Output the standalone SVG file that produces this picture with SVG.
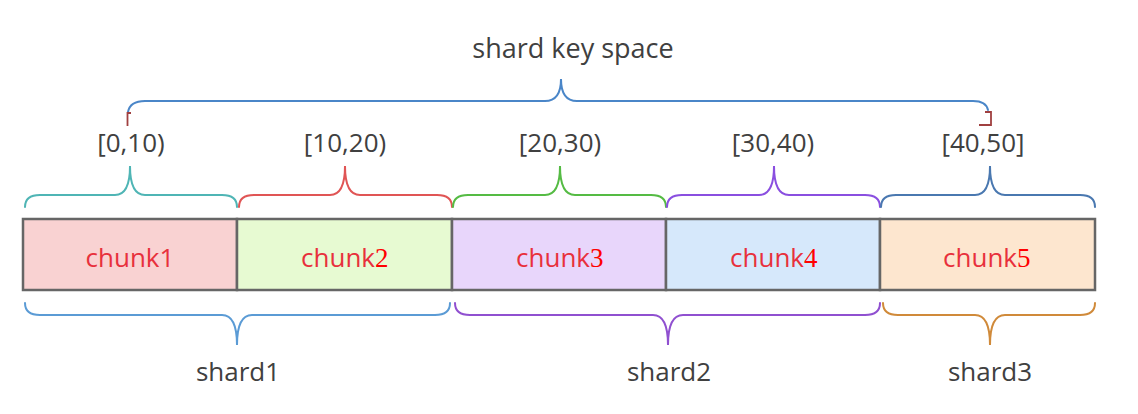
<svg xmlns="http://www.w3.org/2000/svg" width="1138" height="414" viewBox="0 0 1138 414">
<style>
.lbl{font-family:"Open Sans","Noto Sans",sans-serif;fill:#404040;text-anchor:middle}
.rng{font-size:26px}
.ck{font-family:"Open Sans","Noto Sans",sans-serif;font-size:26px;fill:#e8303c;text-anchor:middle}
.ckw{font-family:"Open Sans","Noto Sans",sans-serif;font-size:26px;fill:#e8303c;text-anchor:end}
.dg{font-family:"Liberation Serif","Times New Roman",serif;fill:#ff0000;font-size:27px;text-anchor:start}
.box{stroke:#666;stroke-width:2.5}
.br{fill:none;stroke-width:2;stroke-linecap:round}
</style>
<rect width="1138" height="414" fill="#fff"/>
<g id="title"><text class="lbl" x="573" y="58" font-size="27">shard key space</text></g>
<g id="ranges">
<text class="lbl rng" x="131" y="152">[0,10)</text>
<text class="lbl rng" x="345" y="152">[10,20)</text>
<text class="lbl rng" x="560" y="152">[20,30)</text>
<text class="lbl rng" x="773" y="152">[30,40)</text>
<text class="lbl rng" x="983" y="152">[40,50]</text>
</g>
<g id="chunk1"><rect class="box" x="23" y="219" width="214" height="71" fill="#f9d2d2"/><text class="ck" x="130" y="267">chunk1</text></g>
<g id="chunk2"><rect class="box" x="237" y="219" width="215" height="71" fill="#e7fad2"/><text class="ckw" x="375" y="267">chunk</text><text class="dg" x="375" y="267">2</text></g>
<g id="chunk3"><rect class="box" x="452" y="219" width="214" height="71" fill="#e8d6fb"/><text class="ckw" x="590" y="267">chunk</text><text class="dg" x="590" y="267">3</text></g>
<g id="chunk4"><rect class="box" x="666" y="219" width="214" height="71" fill="#d6e8fb"/><text class="ckw" x="804" y="267">chunk</text><text class="dg" x="804" y="267">4</text></g>
<g id="chunk5"><rect class="box" x="880" y="219" width="215" height="71" fill="#fde6cf"/><text class="ckw" x="1017" y="267">chunk</text><text class="dg" x="1017" y="267">5</text></g>
<g id="connectors">
<path class="br" stroke="#4a86c8" d="M128,112 Q130,101 145,101 L545,101 Q561,101 561,79 Q561,101 577,101 L973,101 Q986,101 988,110"/>
<path fill="none" stroke="#a04040" stroke-width="1.8" d="M131,113 L127.5,113 L127.5,126"/>
<path fill="none" stroke="#a04040" stroke-width="1.8" d="M985,112 L991,112 L991,125 L979,125"/>
<path class="br" stroke="#4fb5b5" d="M25,207 Q25,195 40,195 L115,195 Q130,195 130,166 Q130,195 145,195 L222,195 Q237,195 237,207"/>
<path class="br" stroke="#e05555" d="M239,207 Q239,195 254,195 L330,195 Q345,195 345,166 Q345,195 360,195 L437,195 Q452,195 452,207"/>
<path class="br" stroke="#55bb44" d="M453,207 Q453,195 468,195 L545,195 Q560,195 560,166 Q560,195 575,195 L651,195 Q666,195 666,207"/>
<path class="br" stroke="#8a4fe0" d="M667,207 Q667,195 682,195 L759,195 Q774,195 774,166 Q774,195 789,195 L865,195 Q880,195 880,207"/>
<path class="br" stroke="#4a78b0" d="M881,207 Q881,195 896,195 L975,195 Q990,195 990,166 Q990,195 1005,195 L1080,195 Q1095,195 1095,207"/>
<path class="br" stroke="#5b9bd5" d="M25,303 Q25,315 40,315 L222,315 Q237,315 237,345 Q237,315 252,315 L435,315 Q450,315 450,303"/>
<path class="br" stroke="#9050d0" d="M455,303 Q455,315 470,315 L653,315 Q668,315 668,345 Q668,315 683,315 L865,315 Q880,315 880,303"/>
<path class="br" stroke="#d08a3a" d="M883,303 Q883,315 898,315 L975,315 Q990,315 990,345 Q990,315 1005,315 L1080,315 Q1095,315 1095,303"/>
</g>
<g id="shards">
<text class="lbl" x="238" y="381" font-size="26">shard1</text>
<text class="lbl" x="669" y="381" font-size="26">shard2</text>
<text class="lbl" x="990" y="381" font-size="26">shard3</text>
</g>
</svg>
